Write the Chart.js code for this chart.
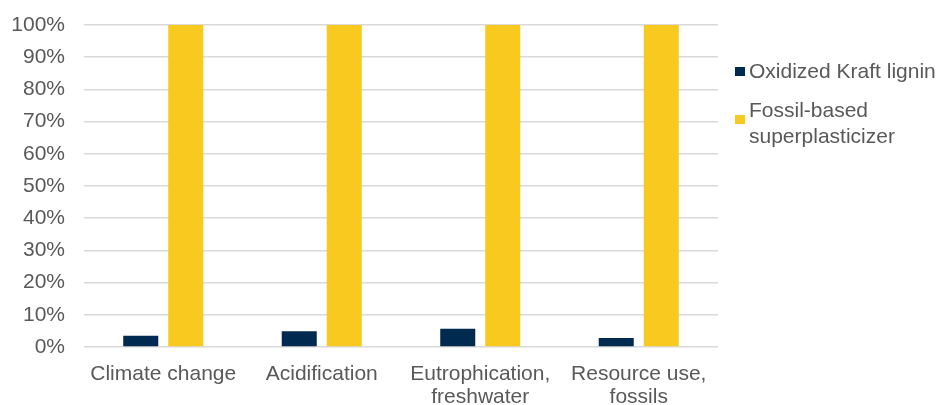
<!DOCTYPE html>
<html>
<head>
<meta charset="utf-8">
<script src="https://cdn.jsdelivr.net/npm/chart.js@4/dist/chart.umd.min.js"></script>
<style>
	html, body { margin: 0; padding: 0; background: #fff; }
	#wrap { position: relative; width: 944px; height: 405px; }
	#legend { position: absolute; left: 735px; top: 0; font: 21px "Liberation Sans", Arial, sans-serif; color: #595959; }
	.item { position: absolute; left: 0; white-space: nowrap; }
	.box { position: absolute; left: 0; width: 10px; height: 9px; }
	.txt { position: absolute; left: 14px; line-height: 26px; }
</style>
</head>
<body>
<div id="wrap">
	<canvas id="chart" width="944" height="405"></canvas>
	<div id="legend"></div>
</div>
<script>

	let categories = [
		'Climate change',
		'Acidification',
		['Eutrophication,', 'freshwater'],
		['Resource use,', 'fossils'],
	];

	let seriesNames = [['Oxidized Kraft lignin'], ['Fossil-based', 'superplasticizer']];
	let seriesColors = ['#002a50', '#f8c91f'];

	let kraftLignin = [3.5, 4.9, 5.7, 2.8];
	let fossilBased = [100, 100, 100, 100];

	let yTicks = [0, 10, 20, 30, 40, 50, 60, 70, 80, 90, 100];

	let textColor = '#595959';
	let fontFamily = '"Liberation Sans", Arial, sans-serif';

	let data = {
		labels: categories,
		datasets: [kraftLignin, fossilBased].map((values, i) => ({
			label: seriesNames[i].join(' '),
			data: values,
			backgroundColor: seriesColors[i],
			categoryPercentage: 0.568,
			barPercentage: 0.778,
		})),
	};

	let options = {
		responsive: false,
		animation: false,
		layout: { padding: { top: 25, right: 226, bottom: 0, left: 0 } },
		plugins: { legend: { display: false }, tooltip: { enabled: false } },
		scales: {
			x: {
				grid: { display: false },
				border: { display: false },
				ticks: {
					color: textColor,
					font: { family: fontFamily, size: 21, lineHeight: 1.1 },
					padding: 8,
					maxRotation: 0,
					autoSkip: false,
				},
				afterFit(scale) { scale.height = 58; },
			},
			y: {
				min: 0,
				max: 100,
				afterBuildTicks(scale) { scale.ticks = yTicks.map(v => ({ value: v })); },
				grid: { color: '#d9d9d9', lineWidth: 1.5, drawTicks: false },
				border: { display: false },
				ticks: {
					color: textColor,
					font: { family: fontFamily, size: 21 },
					padding: 19,
					callback: v => v + '%',
				},
				afterFit(scale) {
					scale.width = 84;
					scale.paddingTop = 0;
					scale.paddingBottom = 0;
				},
			},
		},
	};

	let chart = new Chart(document.getElementById('chart'), { type: 'bar', data, options });

	// legend drawn as html, next to the plot
	let legendTops = [58, 97];
	let boxTops = [9, 18];
	let legend = document.getElementById('legend');
	seriesNames.forEach((lines, i) => {
		let item = document.createElement('div');
		item.className = 'item';
		item.style.top = legendTops[i] + 'px';
		let box = document.createElement('div');
		box.className = 'box';
		box.style.background = seriesColors[i];
		box.style.top = boxTops[i] + 'px';
		let txt = document.createElement('div');
		txt.className = 'txt';
		txt.innerHTML = lines.join('<br>');
		item.appendChild(box);
		item.appendChild(txt);
		legend.appendChild(item);
	});

</script>
</body>
</html>
